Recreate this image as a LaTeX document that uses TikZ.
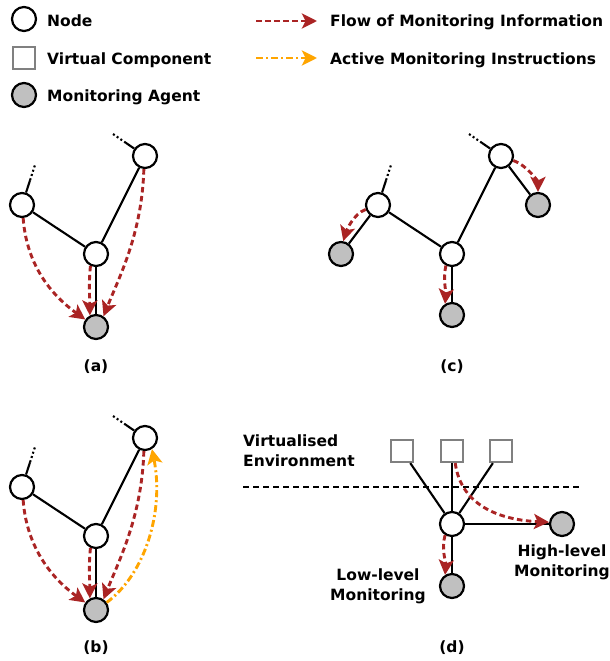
\documentclass[tikz,border=0pt]{standalone}
\usepackage{fontspec}
\setmainfont{DejaVu Sans}
\usetikzlibrary{arrows.meta,calc}

\definecolor{flowred}{RGB}{170,36,36}
\definecolor{instrorange}{RGB}{255,165,0}
\definecolor{agentgray}{RGB}{192,192,192}
\definecolor{vgray}{RGB}{128,128,128}

\tikzset{
  netnode/.style={circle,draw=black,fill=white,line width=2.2pt,minimum size=24pt,inner sep=0pt},
  agent/.style={netnode,fill=agentgray},
  vcomp/.style={rectangle,draw=vgray,fill=white,line width=2.2pt,minimum size=22pt,inner sep=0pt},
  link/.style={line width=2.1pt,draw=black},
  stub/.style={line width=2.1pt,draw=black,dash pattern=on 2pt off 2.5pt},
  flow/.style={line width=2.9pt,draw=flowred,dash pattern=on 5.5pt off 3.5pt,
    -{Stealth[length=15pt,width=15pt,inset=3.5pt,fill=flowred]}},
  instr/.style={line width=2.9pt,draw=instrorange,dash pattern=on 7pt off 3pt on 2pt off 3pt,
    -{Stealth[length=15pt,width=15pt,inset=3.5pt,fill=instrorange]}},
  lbl/.style={font=\fontsize{15.5}{19.5}\selectfont\bfseries,inner sep=0pt},
  sep/.style={line width=2.1pt,draw=black,dash pattern=on 6pt off 4pt}
}

\begin{document}
\begin{tikzpicture}[x=1pt,y=-1pt]
\useasboundingbox (0,0) rectangle (610,661);

% ---------- legend ----------
\node[netnode] (lgnode) at (24,19) {};
\node[vcomp] (lgvc) at (24,58) {};
\node[agent] (lgag) at (24,95) {};
\node[lbl,anchor=base west] (tnode) at (47,27) {Node};
\node[lbl,anchor=base west] (tvc) at (47,64) {Virtual Component};
\node[lbl,anchor=base west] (tag) at (47,101) {Monitoring Agent};
\coordinate (lfa) at (256,21);
\coordinate (lfb) at (317,21);
\coordinate (lia) at (256,58);
\coordinate (lib) at (317,58);
\draw[flow] (lfa) -- (lfb);
\draw[instr] (lia) -- (lib);
\node[lbl,anchor=base west] (tflow) at (330,27) {Flow of Monitoring Information};
\node[lbl,anchor=base west] (tinstr) at (330,64) {Active Monitoring Instructions};

% ---------- (a) ----------
\node[netnode] (aL) at (22,205) {};
\node[netnode] (aM) at (96,254) {};
\node[netnode] (aT) at (145,156) {};
\node[agent] (aA) at (96,327) {};
\coordinate (aLe) at (35,165);
\coordinate (aTe) at (113,134);
\draw[link] (aL) -- (aM);
\draw[link] (aT) -- (aM);
\draw[link] (aM) -- (aA);
\draw[link] (aL) -- ($(aL)!0.62!(aLe)$);
\draw[stub] ($(aL)!0.62!(aLe)$) -- (aLe);
\draw[link] (aT) -- ($(aT)!0.6!(aTe)$);
\draw[stub] ($(aT)!0.6!(aTe)$) -- (aTe);
\draw[flow] (aL.-85) .. controls +(4,55) and +(-25,-18) .. (aA.145);
\draw[flow] (aM.-115) .. controls +(-2,18) and +(0,-14) .. (aA.118);
\draw[flow] (aT.-95) .. controls +(-2,65) and +(16,-40) .. (aA.55);
\node[lbl,anchor=base] (capa) at (96,371) {(a)};

% ---------- (c) ----------
\node[netnode] (cL) at (378,205) {};
\node[netnode] (cM) at (452,254) {};
\node[netnode] (cT) at (501,156) {};
\node[agent] (cAL) at (341,254) {};
\node[agent] (cAM) at (452,315) {};
\node[agent] (cAR) at (538,205) {};
\coordinate (cLe) at (391,165);
\coordinate (cTe) at (469,134);
\draw[link] (cL) -- (cM);
\draw[link] (cT) -- (cM);
\draw[link] (cM) -- (cAM);
\draw[link] (cL) -- (cAL);
\draw[link] (cT) -- (cAR);
\draw[link] (cL) -- ($(cL)!0.62!(cLe)$);
\draw[stub] ($(cL)!0.62!(cLe)$) -- (cLe);
\draw[link] (cT) -- ($(cT)!0.6!(cTe)$);
\draw[stub] ($(cT)!0.6!(cTe)$) -- (cTe);
\draw[flow] (cL.200) .. controls +(-12,4) and +(3,-10) .. (cAL.80);
\draw[flow] (cM.-118) .. controls +(-3,14) and +(1,-12) .. (cAM.122);
\draw[flow] (cT.-20) .. controls +(14,5) and +(0,-10) .. (cAR.90);
\node[lbl,anchor=base] (capc) at (452,371) {(c)};

% ---------- (b) ----------
\node[netnode] (bL) at (22,487) {};
\node[netnode] (bM) at (96,536) {};
\node[netnode] (bT) at (145,438) {};
\node[agent] (bA) at (96,610) {};
\coordinate (bLe) at (35,447);
\coordinate (bTe) at (113,416);
\draw[link] (bL) -- (bM);
\draw[link] (bT) -- (bM);
\draw[link] (bM) -- (bA);
\draw[link] (bL) -- ($(bL)!0.62!(bLe)$);
\draw[stub] ($(bL)!0.62!(bLe)$) -- (bLe);
\draw[link] (bT) -- ($(bT)!0.6!(bTe)$);
\draw[stub] ($(bT)!0.6!(bTe)$) -- (bTe);
\draw[flow] (bL.-85) .. controls +(4,55) and +(-25,-18) .. (bA.145);
\draw[flow] (bM.-115) .. controls +(-2,18) and +(0,-14) .. (bA.118);
\draw[flow] (bT.-95) .. controls +(-2,65) and +(16,-40) .. (bA.55);
\draw[instr] (bA.35) .. controls +(40,-30) and +(12,60) .. (bT.-58);
\node[lbl,anchor=base] (capb) at (96,652) {(b)};

% ---------- (d) ----------
\node[vcomp] (dV1) at (402,451) {};
\node[vcomp] (dV2) at (452,451) {};
\node[vcomp] (dV3) at (501,451) {};
\node[netnode] (dN) at (452,524) {};
\node[agent] (dAR) at (562,524) {};
\node[agent] (dAB) at (452,586) {};
\coordinate (dSa) at (243,487);
\coordinate (dSb) at (582,487);
\draw[link] (dV1) -- (dN);
\draw[link] (dV2) -- (dN);
\draw[link] (dV3) -- (dN);
\draw[link] (dN) -- (dAR);
\draw[link] (dN) -- (dAB);
\draw[sep] (dSa) -- (dSb);
\draw[flow] (dV2.-75) .. controls +(6,45) and +(-45,-2) .. (dAR.172);
\draw[flow] (dN.-122) .. controls +(-4,14) and +(1,-12) .. (dAB.122);
\node[lbl,anchor=base west,align=left] (tvirt) at (243,466) {Virtualised\\Environment};
\node[lbl,anchor=base,align=center] (thigh) at (562,576) {High-level\\Monitoring};
\node[lbl,anchor=base,align=center] (tlow) at (378,600) {Low-level\\Monitoring};
\node[lbl,anchor=base] (capd) at (452,652) {(d)};
\end{tikzpicture}
\end{document}
